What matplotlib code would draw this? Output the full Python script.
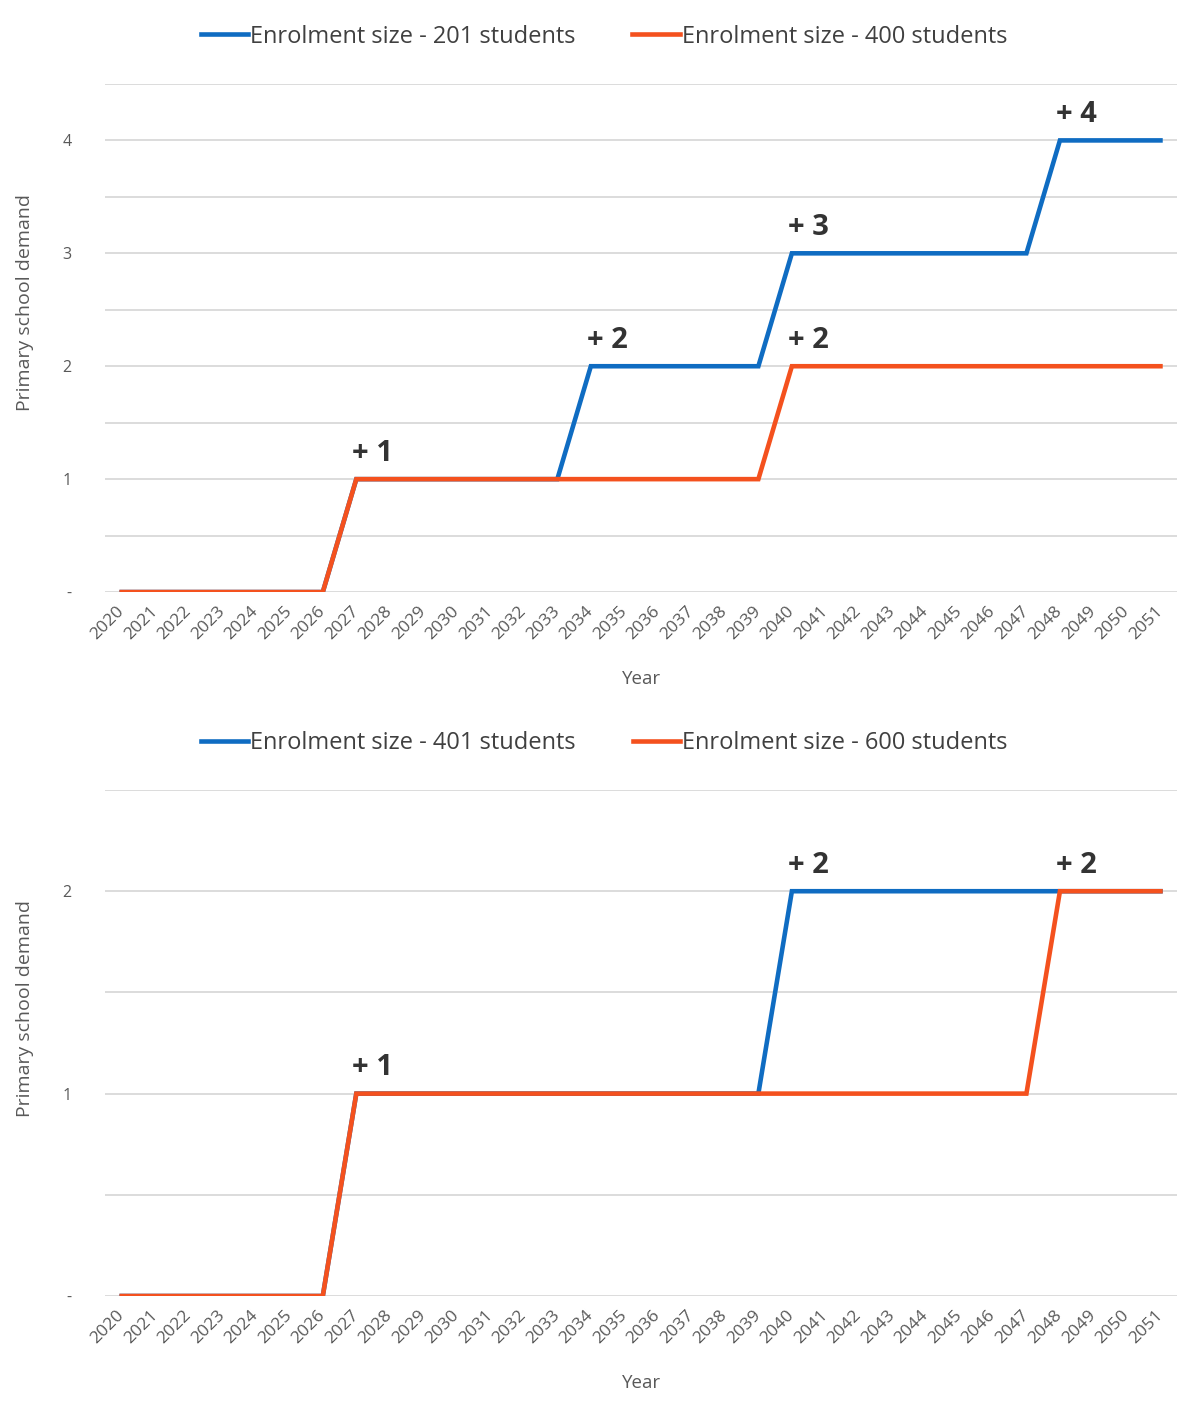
import numpy as np
import matplotlib.pyplot as plt

years = [str(y) for y in range(2020, 2052)]

# top chart: schools needed per year
demand_201 = [0] * 7 + [1] * 7 + [2] * 6 + [3] * 8 + [4] * 4
demand_400 = [0] * 7 + [1] * 13 + [2] * 12
# bottom chart
demand_401 = [0] * 7 + [1] * 13 + [2] * 12
demand_600 = [0] * 7 + [1] * 21 + [2] * 4

top_notes = [("2027", 1, "+ 1"), ("2034", 2, "+ 2"), ("2040", 3, "+ 3"),
             ("2048", 4, "+ 4"), ("2040", 2, "+ 2")]
bottom_notes = [("2027", 1, "+ 1"), ("2040", 2, "+ 2"), ("2048", 2, "+ 2")]

blue = "#0f6cc2"
orange = "#f4511e"
grey = "#595959"

plt.rcParams["font.family"] = ["Open Sans", "DejaVu Sans"]

fig = plt.figure(figsize=(12, 14.11), dpi=100)
ax1 = fig.add_axes([0.0875, 0.5804, 0.8935, 0.3601])
ax2 = fig.add_axes([0.0875, 0.0815, 0.8935, 0.3586])


def draw(ax, a, b, la, lb, ymax, notes):
    x = np.arange(len(years))
    ax.plot(x, a, color=blue, lw=3.3, label=la, solid_joinstyle="miter")
    ax.plot(x, b, color=orange, lw=3.3, label=lb, solid_joinstyle="miter")
    ax.set_xlim(-0.5, len(years) - 0.5)
    ax.set_ylim(0, ymax)
    for v in np.arange(0, ymax + 0.01, 0.5):
        ax.axhline(v, color="#d9d9d9", lw=1.3, zorder=0)
    ticks = list(range(int(ymax) + 1))
    ax.set_yticks(ticks)
    ax.set_yticklabels(["-"] + [str(t) for t in ticks[1:]])
    ax.set_xticks(x)
    ax.set_xticklabels(years, rotation=45, ha="right", va="center",
                       rotation_mode="anchor")
    ax.tick_params(length=0, colors=grey, labelsize=11.5)
    ax.tick_params(axis="x", labelsize=12.5, pad=12)
    ax.tick_params(axis="y", pad=24)
    for s in ax.spines.values():
        s.set_visible(False)
    ax.set_xlabel("Year", color=grey, fontsize=13.5, labelpad=20)
    ax.set_ylabel("Primary school demand", color=grey, fontsize=14)
    ax.yaxis.set_label_coords(-0.066, 0.569)
    for yr, val, txt in notes:
        ax.annotate(txt, (years.index(yr), val), xytext=(-3, 8),
                    textcoords="offset points", ha="left", va="bottom",
                    fontsize=21, fontweight="bold", color="#333333")
    ax.legend(loc="center", bbox_to_anchor=(0.4655, 1.093), ncol=2,
              frameon=False, fontsize=17, handlelength=2.0,
              handletextpad=0.1, columnspacing=2.4, labelcolor="#404040")


draw(ax1, demand_201, demand_400, "Enrolment size - 201 students",
     "Enrolment size - 400 students", 4.5, top_notes)
draw(ax2, demand_401, demand_600, "Enrolment size - 401 students",
     "Enrolment size - 600 students", 2.5, bottom_notes)

fig.savefig("out.png", dpi=100, facecolor="white")
